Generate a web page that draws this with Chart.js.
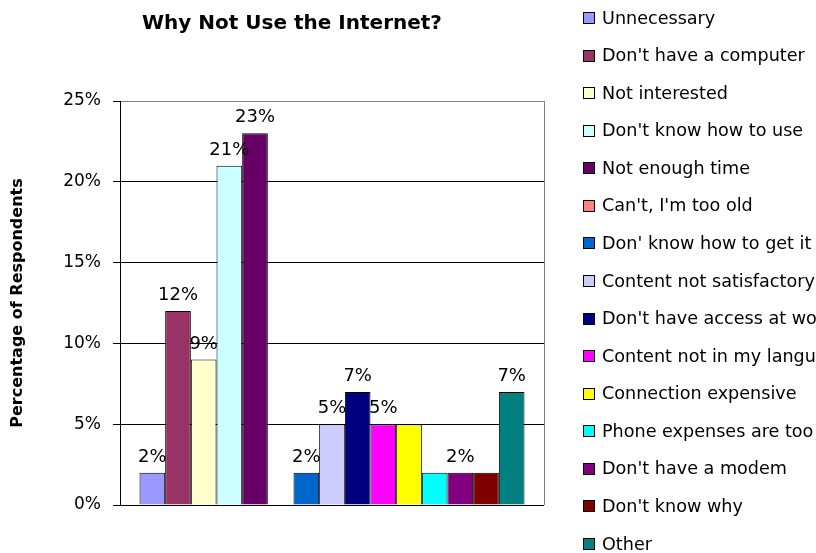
<!DOCTYPE html>
<html>
<head>
<meta charset="utf-8">
<script src="https://cdn.jsdelivr.net/npm/chart.js"></script>
<style>
    body { margin: 0; background: #fff; }
    canvas { display: block; }
</style>
</head>
<body>
<canvas id="internetChart" width="816" height="553"></canvas>
<script>
const reasons = [
    'Unnecessary',
    "Don't have a computer",
    'Not interested',
    "Don't know how to use",
    'Not enough time',
    "Can't, I'm too old",
    "Don' know how to get it",
    'Content not satisfactory',
    "Don't have access at work",
    'Content not in my language',
    'Connection expensive',
    'Phone expenses are too high',
    "Don't have a modem",
    "Don't know why",
    'Other'
];
const percents = [2, 12, 9, 21, 23, 0, 2, 5, 7, 5, 5, 2, 2, 2, 7];
const showLabel = [true, true, true, true, true, false, true, true, true, true, false, false, true, false, true];
const colors = [
    '#9999FF', '#993366', '#FFFFCC', '#CCFFFF', '#660066',
    '#FF8080', '#0066CC', '#CCCCFF', '#000080', '#FF00FF',
    '#FFFF00', '#00FFFF', '#800080', '#800000', '#008080'
];
const yTicks = [0, 5, 10, 15, 20, 25];

const fontFamily = '"DejaVu Sans", Verdana, sans-serif';

const titlePlugin = {
    id: 'chartTitle',
    afterDraw(chart) {
        const ctx = chart.ctx;
        ctx.save();
        ctx.fillStyle = '#000';
        ctx.font = 'bold 20px ' + fontFamily;
        ctx.textAlign = 'center';
        ctx.textBaseline = 'alphabetic';
        ctx.fillText('Why Not Use the Internet?', 292, 29);
        ctx.restore();
    }
};

// gray frame on the right of the plot area
const framePlugin = {
    id: 'plotFrame',
    beforeDatasetsDraw(chart) {
        const {ctx, chartArea} = chart;
        ctx.save();
        ctx.strokeStyle = '#808080';
        ctx.lineWidth = 1;
        ctx.beginPath();
        ctx.moveTo(Math.round(chartArea.right) + 0.5, chartArea.top);
        ctx.lineTo(Math.round(chartArea.right) + 0.5, chartArea.bottom);
        ctx.stroke();
        ctx.restore();
    }
};

const valueLabels = {
    id: 'valueLabels',
    afterDatasetsDraw(chart) {
        const ctx = chart.ctx;
        ctx.save();
        ctx.fillStyle = '#000';
        ctx.font = '18px ' + fontFamily;
        ctx.textAlign = 'center';
        ctx.textBaseline = 'alphabetic';
        chart.data.datasets.forEach((ds, i) => {
            if (!showLabel[i]) return;
            const bar = chart.getDatasetMeta(i).data[0];
            ctx.fillText(ds.data[0] + '%', bar.x, bar.y - 11);
        });
        ctx.restore();
    }
};

const sideLegend = {
    id: 'sideLegend',
    afterDraw(chart) {
        const ctx = chart.ctx;
        ctx.save();
        ctx.font = '17.6px ' + fontFamily;
        ctx.textBaseline = 'middle';
        chart.data.datasets.forEach((ds, i) => {
            const y = 18 + i * 37.57;
            const top = Math.round(y - 6);
            ctx.fillStyle = ds.backgroundColor;
            ctx.fillRect(583, top, 12, 12);
            ctx.strokeStyle = '#000';
            ctx.lineWidth = 1;
            ctx.strokeRect(583.5, top + 0.5, 11, 11);
            ctx.fillStyle = '#000';
            ctx.fillText(ds.label, 602, y + 1);
        });
        ctx.restore();
    }
};

new Chart(document.getElementById('internetChart'), {
    type: 'bar',
    data: {
        labels: ['Reasons'],
        datasets: reasons.map((r, i) => ({
            label: r,
            data: [percents[i]],
            backgroundColor: colors[i],
            borderColor: '#000',
            borderWidth: 1,
            categoryPercentage: 0.908,
            barPercentage: 1
        }))
    },
    options: {
        responsive: false,
        animation: false,
        layout: {
            padding: { left: 0, top: 101, right: 272, bottom: 48 }
        },
        plugins: {
            legend: { display: false },
            tooltip: { enabled: false }
        },
        scales: {
            x: {
                display: false
            },
            y: {
                min: 0,
                max: 25,
                afterBuildTicks(scale) {
                    scale.ticks = yTicks.map(v => ({ value: v }));
                },
                afterFit(scale) {
                    scale.width = 120;
                },
                border: { color: '#000', width: 1 },
                grid: {
                    color: ctx => ctx.tick && ctx.tick.value === 25 ? '#808080' : '#000',
                    tickColor: '#000',
                    tickLength: 7,
                    lineWidth: 1
                },
                ticks: {
                    padding: 12,
                    color: '#000',
                    font: { family: fontFamily, size: 17 },
                    callback: v => v + '%'
                },
                title: {
                    display: true,
                    text: 'Percentage of Respondents',
                    color: '#000',
                    font: { family: fontFamily, size: 16, weight: 'bold' },
                    padding: { top: 8, bottom: 0 }
                }
            }
        }
    },
    plugins: [titlePlugin, framePlugin, valueLabels, sideLegend]
});
</script>
</body>
</html>
